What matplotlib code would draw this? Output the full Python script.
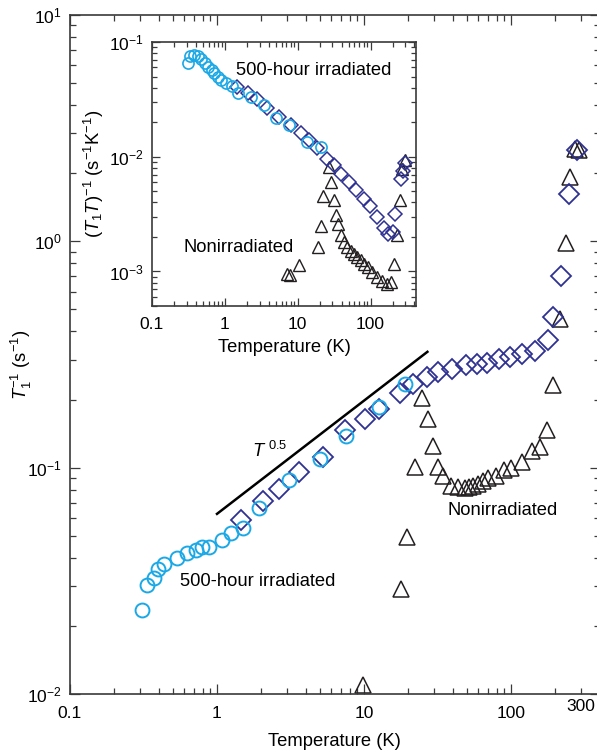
import numpy as np
import matplotlib
matplotlib.use('Agg')
import matplotlib.pyplot as plt
from matplotlib.ticker import LogLocator, FixedLocator, FuncFormatter, NullFormatter

plt.rcParams['font.family'] = ['Liberation Sans', 'DejaVu Sans']
plt.rcParams['mathtext.fontset'] = 'custom'
plt.rcParams['mathtext.rm'] = 'Liberation Sans'
plt.rcParams['mathtext.it'] = 'Liberation Sans:italic'
plt.rcParams['mathtext.bf'] = 'Liberation Sans:bold'

# Datos del panel principal: T1^-1 (s^-1) contra temperatura (K)
temp_irr_circ = [0.307, 0.332, 0.373, 0.399, 0.436, 0.532, 0.628, 0.716, 0.787, 0.887,
                 1.08, 1.24, 1.51, 1.94, 3.10, 5.02, 7.50, 12.7, 19.0]
tasa_irr_circ = [0.0234, 0.0303, 0.0327, 0.0356, 0.0375, 0.0398, 0.0418, 0.0432, 0.0444, 0.0447,
                 0.0479, 0.0517, 0.0544, 0.0663, 0.0883, 0.109, 0.1386, 0.185, 0.2346]

temp_irr_diam = [1.45, 2.05, 2.65, 3.63, 5.24, 7.43, 10.2, 12.7, 17.5, 21.7, 27.0, 32.0, 39.5,
                 49.4, 58.4, 69.0, 83.3, 98.4, 118, 146, 179, 194, 218, 248, 283]
tasa_irr_diam = [0.0587, 0.0710, 0.0805, 0.0960, 0.112, 0.146, 0.164, 0.181, 0.213, 0.234, 0.251,
                 0.264, 0.273, 0.283, 0.288, 0.290, 0.303, 0.308, 0.318, 0.327, 0.367, 0.462,
                 0.702, 1.625, 2.52]

temp_noirr = [9.9, 17.8, 19.5, 22.2, 24.7, 27.4, 29.3, 32.0, 34.3, 39.1, 43.8, 48.7, 52.0, 55.4,
              59.9, 64.8, 70.1, 79.1, 89.6, 99.5, 118, 138, 157, 177, 194, 215, 236, 252, 273, 290]
tasa_noirr = [0.0110, 0.0290, 0.0492, 0.101, 0.203, 0.164, 0.125, 0.101, 0.0916, 0.0832, 0.0818,
              0.0814, 0.0818, 0.0832, 0.0847, 0.0870, 0.090, 0.0922, 0.0977, 0.100, 0.106, 0.118,
              0.124, 0.147, 0.231, 0.455, 0.983, 1.93, 2.57, 2.54]

# Recta guia T^0.5
temp_guia = [1.0, 27.0]
tasa_guia = [0.0625, 0.325]

# Datos del recuadro: (T1 T)^-1 (s^-1 K^-1)
temp_ins_circ = [0.314, 0.335, 0.38, 0.431, 0.469, 0.532, 0.59, 0.656, 0.713, 0.793, 0.881,
                 1.03, 1.27, 1.52, 2.27, 3.45, 5.0, 7.6, 13.6, 20.7]
tasa_ins_circ = [0.0652, 0.076, 0.077, 0.0755, 0.0711, 0.066, 0.0609, 0.0569, 0.0533, 0.0498,
                 0.0466, 0.0436, 0.0413, 0.0356, 0.0333, 0.0282, 0.0218, 0.0188, 0.01346, 0.0122]

temp_ins_diam = [1.46, 2.08, 2.74, 3.84, 5.55, 8.0, 11.0, 14.3, 18.6, 25.5, 31.4, 38.8, 50.5,
                 64.0, 81.0, 98.0, 123, 152, 175, 200, 218, 262, 280, 300]
tasa_ins_diam = [0.0407, 0.0356, 0.0316, 0.0264, 0.0220, 0.0188, 0.0160, 0.0139, 0.0118, 0.0096,
                 0.0084, 0.0071, 0.0060, 0.0051, 0.0043, 0.0037, 0.0030, 0.0024, 0.0021, 0.0022,
                 0.0032, 0.0064, 0.0075, 0.0088]

temp_ins_tri = [7.07, 7.85, 10.4, 19.0, 21.1, 22.5, 26.8, 28.3, 31.4, 33.2, 35.6, 38.8, 43.1,
                48.0, 53.2, 59.1, 65.7, 73.0, 81.0, 91.8, 105, 123, 145, 166, 188, 208, 227,
                252, 272, 301]
tasa_ins_tri = [0.000955, 0.000923, 0.00113, 0.00165, 0.00247, 0.00452, 0.00815, 0.00603,
                0.00417, 0.00308, 0.00261, 0.00206, 0.00180, 0.00163, 0.00152, 0.00143,
                0.00133, 0.00125, 0.00117, 0.00109, 0.00099, 0.00089, 0.00083, 0.00078,
                0.00081, 0.00117, 0.00206, 0.00417, 0.00789, 0.00932]

AZUL_CLARO = '#1ba8e6'
AZUL_OSCURO = '#2e3192'
NEGRO = '#231f20'
EJE = '#3a3a3a'
LETRA = 13.2
LETRA_TICK = 12.5


def potencia(valor):
    exp = int(round(np.log10(valor)))
    return r'$\mathregular{10^{%d}}$' % exp


def estilo_ejes(ax, mayor, menor, pad_x):
    ax.set_xscale('log')
    ax.set_yscale('log')
    ax.xaxis.set_minor_locator(LogLocator(base=10, subs=np.arange(2, 10)))
    ax.yaxis.set_minor_locator(LogLocator(base=10, subs=np.arange(2, 10)))
    ax.tick_params(which='both', direction='in', top=True, right=True,
                   color=EJE, width=0.9, labelsize=LETRA_TICK)
    ax.tick_params(which='major', length=mayor)
    ax.tick_params(which='minor', length=menor)
    ax.tick_params(axis='x', pad=pad_x)
    ax.tick_params(axis='y', pad=6)
    for lado in ax.spines.values():
        lado.set_color(EJE)
        lado.set_linewidth(1.2)
    ax.yaxis.set_major_formatter(FuncFormatter(lambda v, p: potencia(v)))
    ax.yaxis.set_minor_formatter(NullFormatter())


def panel_principal(fig):
    ax = fig.add_axes([70 / 597, 61 / 755, 529.5 / 597, 679 / 755])
    estilo_ejes(ax, 7.5, 4, 9)
    ax.set_xlim(0.1, 400)
    ax.set_ylim(0.01, 10)

    ax.plot(temp_guia, tasa_guia, color='black', lw=1.8)
    ax.plot(temp_noirr, tasa_noirr, ls='none', marker='^', ms=11, mfc='none',
            mec=NEGRO, mew=1.1)
    ax.plot(temp_irr_diam, tasa_irr_diam, ls='none', marker='D', ms=10, mfc='none',
            mec=AZUL_OSCURO, mew=1.3)
    ax.plot(temp_irr_circ, tasa_irr_circ, ls='none', marker='o', ms=10, mfc='none',
            mec=AZUL_CLARO, mew=1.4)

    ax.xaxis.set_major_locator(FixedLocator([0.1, 1, 10, 100]))
    ax.xaxis.set_major_formatter(FuncFormatter(lambda v, p: '%g' % v))
    ax.xaxis.set_minor_formatter(FuncFormatter(
        lambda v, p: '300' if abs(v - 300) < 1 else ''))
    ax.yaxis.set_major_locator(FixedLocator([0.01, 0.1, 1, 10]))

    ax.set_xlabel('Temperature (K)', fontsize=LETRA, labelpad=8)
    ax.set_ylabel(r'$\mathit{T}_1^{-1}\ \mathregular{(s^{-1})}$', fontsize=LETRA)
    ax.yaxis.set_label_coords(-0.068, 0.485)

    ax.text(1.72, 0.118, r'$\mathit{T}^{\ 0.5}$', fontsize=LETRA, ha='left', va='center')
    ax.text(0.56, 0.0313, '500-hour irradiated', fontsize=LETRA, ha='left', va='center')
    ax.text(36.7, 0.0646, 'Nonirradiated', fontsize=LETRA, ha='left', va='center')
    return ax


def recuadro(fig):
    ax = fig.add_axes([152 / 597, 449 / 755, 264 / 597, 264 / 755])
    estilo_ejes(ax, 6, 3.5, 8)
    ax.set_xlim(0.1, 420)
    ax.set_ylim(5e-4, 0.1)

    ax.plot(temp_ins_tri, tasa_ins_tri, ls='none', marker='^', ms=9, mfc='none',
            mec=NEGRO, mew=1.0)
    ax.plot(temp_ins_diam, tasa_ins_diam, ls='none', marker='D', ms=7.5, mfc='none',
            mec=AZUL_OSCURO, mew=1.1)
    ax.plot(temp_ins_circ, tasa_ins_circ, ls='none', marker='o', ms=8, mfc='none',
            mec=AZUL_CLARO, mew=1.2)

    ax.xaxis.set_major_locator(FixedLocator([0.1, 1, 10, 100]))
    ax.xaxis.set_major_formatter(FuncFormatter(lambda v, p: '%g' % v))
    ax.xaxis.set_minor_formatter(NullFormatter())
    ax.yaxis.set_major_locator(FixedLocator([0.001, 0.01, 0.1]))

    ax.set_xlabel('Temperature (K)', fontsize=LETRA, labelpad=5)
    ax.set_ylabel(r'$(\mathit{T}_1\mathit{T})^{-1}\ \mathregular{(s^{-1}K^{-1})}$',
                  fontsize=LETRA, labelpad=2)

    ax.text(1.41, 0.0569, '500-hour irradiated', fontsize=LETRA, ha='left', va='center')
    ax.text(0.274, 0.00162, 'Nonirradiated', fontsize=LETRA, ha='left', va='center')
    return ax


def main():
    fig = plt.figure(figsize=(5.97, 7.55), dpi=100)
    panel_principal(fig)
    recuadro(fig)
    fig.savefig('out.png', dpi=100)


if __name__ == "__main__":
    main()
